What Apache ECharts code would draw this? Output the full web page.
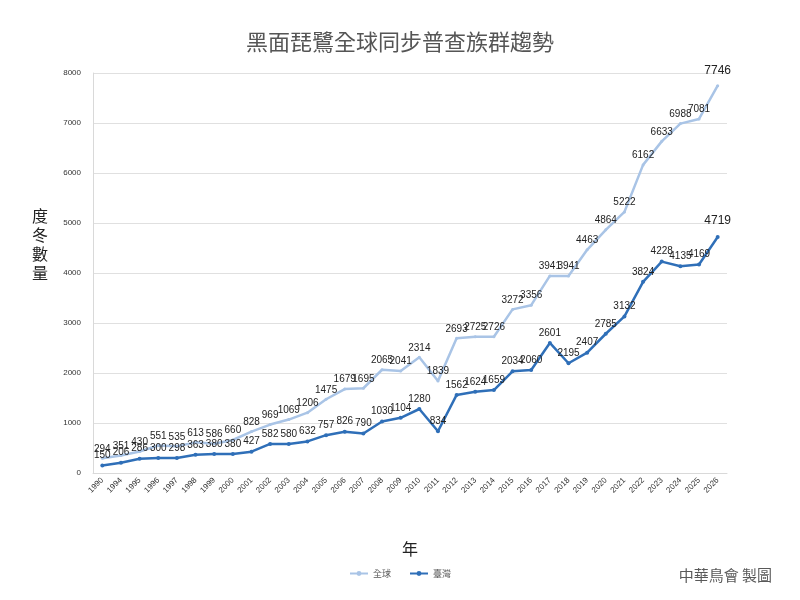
<!DOCTYPE html>
<html>
<head>
<meta charset="utf-8">
<script src="https://cdn.jsdelivr.net/npm/echarts@6/dist/echarts.min.js"></script>
<style>
  html, body { margin: 0; padding: 0; background: #fff; }
  #main { width: 800px; height: 600px; }
</style>
</head>
<body>
<div id="main"></div>
<script>
var years = ['1990', '1994', '1995', '1996', '1997', '1998', '1999', '2000', '2001', '2002',
    '2003', '2004', '2005', '2006', '2007', '2008', '2009', '2010', '2011', '2012',
    '2013', '2014', '2015', '2016', '2017', '2018', '2019', '2020', '2021', '2022',
    '2023', '2024', '2025', '2026'];
var globalCount = [294, 351, 430, 551, 535, 613, 586, 660, 828, 969,
    1069, 1206, 1475, 1679, 1695, 2065, 2041, 2314, 1839, 2693,
    2725, 2726, 3272, 3356, 3941, 3941, 4463, 4864, 5222, 6162,
    6633, 6988, 7081, 7746];
var taiwanCount = [150, 206, 286, 300, 298, 363, 380, 380, 427, 582,
    580, 632, 757, 826, 790, 1030, 1104, 1280, 834, 1562,
    1624, 1659, 2034, 2060, 2601, 2195, 2407, 2785, 3132, 3824,
    4228, 4135, 4169, 4719];

var cjk = '"Noto Sans CJK TC", "Noto Sans CJK SC", sans-serif';

// 最後一個點的標籤字大一點
function lastBig(i) {
    return i === years.length - 1;
}

var myChart = echarts.init(document.getElementById('main'));
myChart.setOption({
    animation: false,
    title: {
        text: '黑面琵鷺全球同步普查族群趨勢',
        left: 'center',
        top: 26,
        textStyle: { fontFamily: cjk, fontSize: 22, fontWeight: 'normal', color: '#555' }
    },
    legend: {
        data: ['全球', '臺灣'],
        bottom: 17,
        left: 'center',
        itemWidth: 18,
        itemHeight: 6,
        itemGap: 18,
        textStyle: { fontFamily: cjk, fontSize: 9, color: '#595959' }
    },
    graphic: [{
        type: 'text',
        right: 28,
        bottom: 17,
        style: { text: '中華鳥會 製圖', fill: '#595959', font: '15px ' + cjk }
    }, {
        type: 'text',
        left: 32,
        top: 206,
        style: { text: '度\n冬\n數\n量', fill: '#222', font: '16px ' + cjk, lineHeight: 19 }
    }],
    grid: { left: 93, right: 73, top: 73, bottom: 127 },
    xAxis: {
        type: 'category',
        data: years,
        boundaryGap: true,
        name: '年',
        nameLocation: 'middle',
        nameGap: 68,
        nameTextStyle: { fontFamily: cjk, fontSize: 16, color: '#222' },
        axisLine: { lineStyle: { color: '#d9d9d9' } },
        axisTick: { show: false },
        axisLabel: { rotate: 45, fontSize: 8, color: '#333', interval: 0, margin: 6 }
    },
    yAxis: {
        type: 'value',
        min: 0,
        max: 8000,
        interval: 1000,
        axisLine: { show: true, lineStyle: { color: '#d9d9d9' } },
        splitLine: { lineStyle: { color: '#e0e0e0' } },
        axisLabel: {
            fontSize: 8,
            color: '#333',
            margin: 12,
            formatter: function (v) { return String(v); }
        }
    },
    series: [{
        name: '全球',
        type: 'line',
        data: globalCount.map(function (v, i) {
            return lastBig(i) ? { value: v, label: { fontSize: 12, distance: 8 } } : v;
        }),
        symbol: 'circle',
        symbolSize: 3,
        lineStyle: { width: 2.5, color: '#a9c4e6' },
        itemStyle: { color: '#a9c4e6' },
        label: { show: true, position: 'top', fontSize: 10, color: '#222', distance: 3 }
    }, {
        name: '臺灣',
        type: 'line',
        data: taiwanCount.map(function (v, i) {
            return lastBig(i) ? { value: v, label: { fontSize: 12, distance: 8 } } : v;
        }),
        symbol: 'circle',
        symbolSize: 4,
        lineStyle: { width: 2.5, color: '#2f6fb8' },
        itemStyle: { color: '#2f6fb8' },
        label: { show: true, position: 'top', fontSize: 10, color: '#222', distance: 3 }
    }]
});
</script>
</body>
</html>
